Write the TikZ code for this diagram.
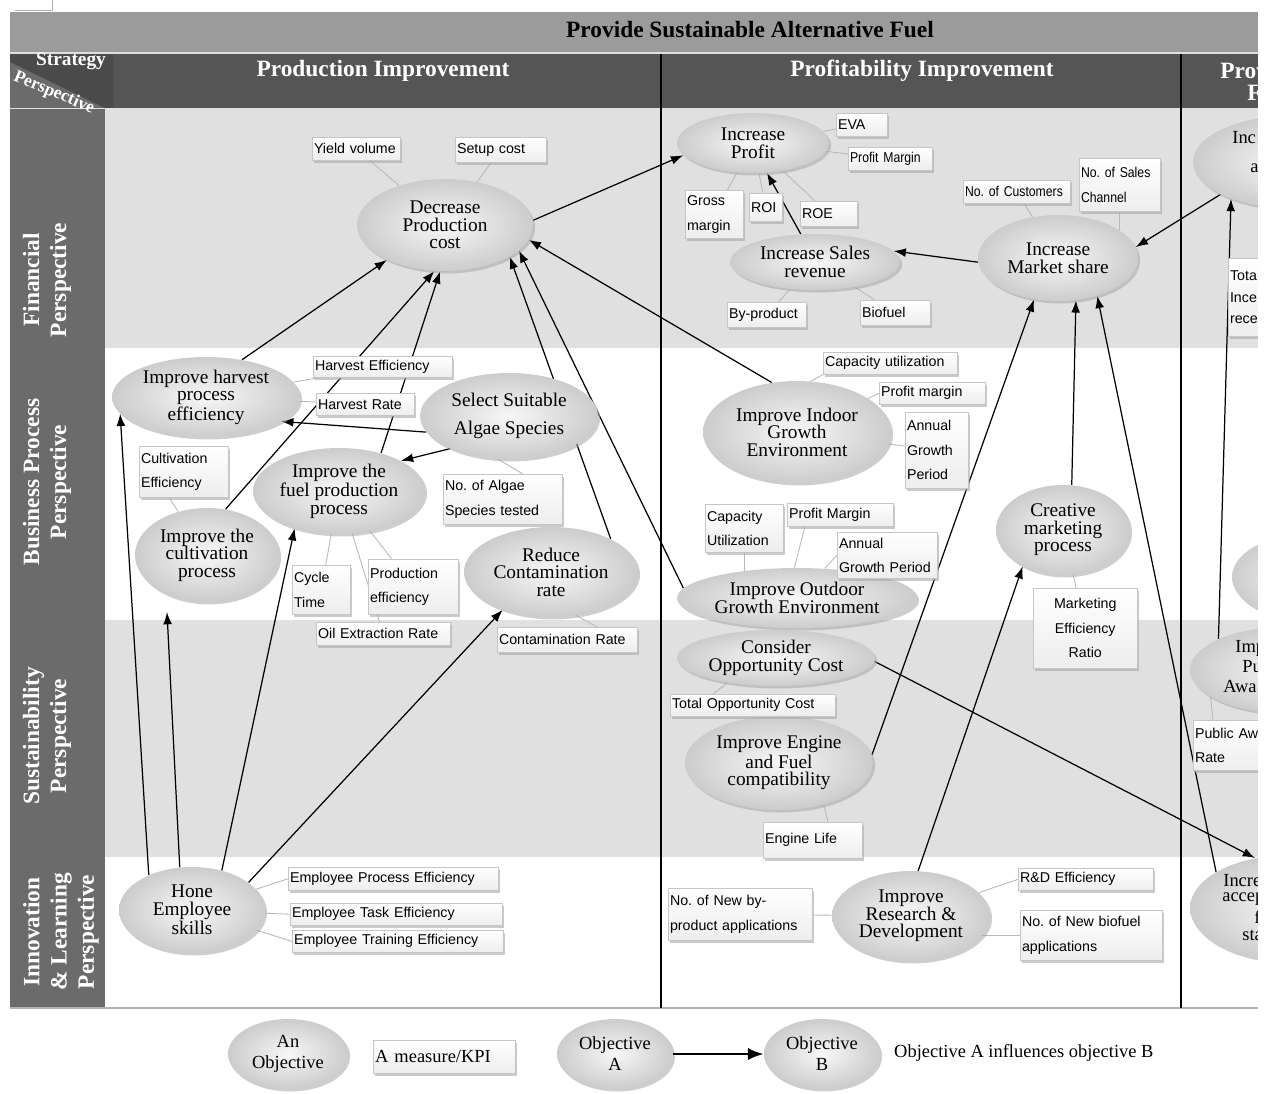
\documentclass[tikz,border=0pt]{standalone}
\usepackage{fontspec}
\setmainfont{Liberation Serif}
\newfontfamily\kpisans{Liberation Sans}
\newfontfamily\kpinarrow[FakeStretch=0.86]{Liberation Sans}
\usetikzlibrary{shapes.geometric,arrows.meta,shadows}

\pgfdeclarelayer{back}
\pgfdeclarelayer{mid}
\pgfsetlayers{back,mid,main}

\definecolor{titlegrey}{HTML}{9B9B9B}
\definecolor{headgrey}{HTML}{555555}
\definecolor{cornergrey}{HTML}{4B4B4B}
\definecolor{sidegrey}{HTML}{6B6B6B}
\definecolor{bandgrey}{HTML}{E0E0E0}

\tikzset{
  obj/.style={ellipse, inner sep=0pt, align=center, font=\fontsize{11}{10}\selectfont,
    shade, inner color=gray!6, outer color=gray!40,
    drop shadow={shadow xshift=1.2pt, shadow yshift=-1.4pt, fill=gray!70, opacity=.55}},
  kpi/.style={rectangle, anchor=north west, draw=gray!45, line width=.3pt,
    inner xsep=1pt, inner ysep=1.5pt, align=left, font=\kpisans\fontsize{8.1}{14}\selectfont,
    top color=white, bottom color=gray!14,
    drop shadow={shadow xshift=1.2pt, shadow yshift=-1.6pt, fill=gray!70, opacity=.6}},
  kline/.style={gray!55, line width=.5pt},
  arr/.style={-{Latex[length=7pt,width=5pt]}, line width=.7pt},
  lanelabel/.style={rotate=90, text=white, align=center, font=\bfseries\fontsize{13.3}{15.5}\selectfont},
  headtext/.style={text=white, font=\bfseries\fontsize{13.3}{15}\selectfont},
  frag/.style={anchor=west, inner sep=0pt, font=\fontsize{10.5}{10}\selectfont},
}

\begin{document}
\frenchspacing
\begin{tikzpicture}[x=0.02cm, y=-0.02cm]
\useasboundingbox (0,0) rectangle (1264,1093);

% bands and grid
\begin{pgfonlayer}{back}
\fill[titlegrey] (10,12) rectangle (1258,52);
\fill[headgrey] (10,54) rectangle (1258,108);
\fill[sidegrey] (10,54) rectangle (113,108);
\fill[cornergrey] (10,54) -- (113,54) -- (113,112) -- (10,62) -- cycle;
\fill[sidegrey] (10,108) rectangle (105,1008);
\fill[bandgrey] (105,109) rectangle (1258,348);
\fill[bandgrey] (105,620) rectangle (1258,857);
\draw[gray!25, line width=1pt] (10,53) -- (1258,53);
\draw[gray!25, line width=1pt] (10,108.5) -- (1258,108.5);
\draw[gray!60, line width=1pt] (10,1008) -- (1258,1008);
\draw[line width=.6pt] (661,54) -- (661,1008);
\draw[line width=.6pt] (1181,54) -- (1181,1008);
\draw[gray!60] (15,10) -- (52,10) -- (52,0);
\end{pgfonlayer}

% headings
\node[font=\bfseries\fontsize{13.3}{15}\selectfont] (ttl) at (750,30) {Provide Sustainable Alternative Fuel};
\node[headtext] (hprod) at (383,71) {Production Improvement};
\node[headtext] (hprof) at (922,71) {Profitability Improvement};
\node[headtext, anchor=west, inner sep=0pt] (hprov) at (1220,71) {Prov};
\node[headtext, anchor=west, inner sep=0pt] (hprovf) at (1247,93) {F};
\node[text=white, inner sep=0pt, font=\bfseries\fontsize{11}{12}\selectfont] (strat) at (71,61) {Strategy};
\node[text=white, inner sep=0pt, rotate=-23, font=\bfseries\fontsize{10}{12}\selectfont] (persp) at (54,93) {Perspective};

\node[lanelabel] (lfin) at (47,280) {Financial\\Perspective};
\node[lanelabel] (lbus) at (47,482) {Business Process\\Perspective};
\node[lanelabel] (lsus) at (47,736) {Sustainability\\Perspective};
\node[lanelabel] (linn) at (61,932) {Innovation\\\& Learning\\Perspective};

% objectives
\node[obj, minimum width=3.52cm, minimum height=1.84cm] (dec) at (445,225) {Decrease\\Production\\cost};
\node[obj, minimum width=3.04cm, minimum height=1.2cm] (prof) at (753,143) {Increase\\Profit};
\node[obj, minimum width=3.4cm, minimum height=1.12cm] (sales) at (815,262) {Increase Sales\\revenue};
\node[obj, minimum width=3.2cm, minimum height=1.72cm] (mkt) at (1058,258) {Increase\\Market share};
\node[obj, minimum width=3.76cm, minimum height=1.6cm] (harv) at (206,397) {Improve harvest\\process\\efficiency};
\node[obj, minimum width=3.56cm, minimum height=1.72cm] (sel) at (509,416) {Select Suitable\\[6pt]Algae Species};
\node[obj, minimum width=3.44cm, minimum height=1.72cm] (fuel) at (339,491) {Improve the\\fuel production\\process};
\node[obj, minimum width=2.88cm, minimum height=1.88cm] (cult) at (207,555) {Improve the\\cultivation\\process};
\node[obj, minimum width=3.48cm, minimum height=1.8cm] (red) at (551,572) {Reduce\\Contamination\\rate};
\node[obj, minimum width=3.76cm, minimum height=2.04cm] (ind) at (797,432) {Improve Indoor\\Growth\\Environment};
\node[obj, minimum width=2.68cm, minimum height=1.8cm] (crea) at (1063,530) {Creative\\marketing\\process};
\node[obj, minimum width=4.8cm, minimum height=1.2cm] (outd) at (797,598) {Improve Outdoor\\Growth Environment};
\node[obj, minimum width=3.96cm, minimum height=1.12cm] (opp) at (776,658) {Consider\\Opportunity Cost};
\node[obj, minimum width=3.76cm, minimum height=1.88cm] (eng) at (779,763) {Improve Engine\\and Fuel\\compatibility};
\node[obj, minimum width=2.92cm, minimum height=1.72cm] (hone) at (192,910) {Hone\\Employee\\skills};
\node[obj, minimum width=3.16cm, minimum height=1.8cm] (rd) at (911,916) {Improve\\Research \&\\Development};

% objectives cut off at the right edge
\node[obj, minimum width=3.88cm, minimum height=1.84cm] (incA) at (1290,162) {};
\node[frag] (incAa) at (1232,138) {Inc};
\node[frag] (incAb) at (1250,168) {a};
\node[obj, minimum width=2.92cm, minimum height=1.68cm] (side) at (1305,577) {};
\node[obj, minimum width=3.8cm, minimum height=1.72cm] (pub) at (1285,670) {};
\node[frag] (puba) at (1235,648) {Imp};
\node[frag] (pubb) at (1242,667) {Pu};
\node[frag] (pubc) at (1223,686) {Awa};
\node[obj, minimum width=4cm, minimum height=2.12cm] (incB) at (1290,908) {};
\node[frag] (incBa) at (1223,881) {Incre};
\node[frag] (incBb) at (1222,899) {accep};
\node[frag] (incBc) at (1254,917) {f};
\node[frag] (incBd) at (1242,935) {sta};

% measures
\node[kpi, text width=1.69cm, minimum height=.46cm] (yield) at (312,137) {Yield volume};
\node[kpi, text width=1.75cm, minimum height=.5cm] (setup) at (455,137) {Setup cost};
\node[kpi, text width=.95cm, minimum height=.46cm] (eva) at (836,113) {EVA};
\node[kpi, text width=1.61cm, minimum height=.46cm, font=\kpinarrow\fontsize{8.1}{14}\selectfont] (pm) at (848,147) {Profit Margin};
\node[kpi, text width=1.09cm, minimum height=.96cm] (gross) at (685,190) {Gross\\margin};
\node[kpi, text width=.59cm, minimum height=.56cm] (roi) at (749,193) {ROI};
\node[kpi, text width=1.07cm, minimum height=.5cm] (roe) at (800,201) {ROE};
\node[kpi, text width=1.51cm, minimum height=.5cm] (byp) at (727,302) {By-product};
\node[kpi, text width=1.33cm, minimum height=.5cm] (bio) at (860,300) {Biofuel};
\node[kpi, text width=2.07cm, minimum height=.46cm, font=\kpinarrow\fontsize{8.1}{14}\selectfont] (cust) at (963,180) {No. of Customers};
\node[kpi, text width=1.55cm, minimum height=1.06cm, font=\kpinarrow\fontsize{8.1}{14}\selectfont] (nsc) at (1079,158) {No. of Sales\\Channel};
\node[kpi, text width=2cm, minimum height=1.56cm, font=\kpisans\fontsize{8.1}{12.2}\selectfont] (tota) at (1228,258) {Tota\\Ince\\rece};

\node[kpi, text width=2.71cm, minimum height=.42cm] (he) at (313,356) {Harvest Efficiency};
\node[kpi, text width=1.89cm, minimum height=.44cm] (hr) at (316,393) {Harvest Rate};
\node[kpi, text width=1.71cm, minimum height=1.02cm] (ce) at (139,446) {Cultivation\\Efficiency};
\node[kpi, text width=2.31cm, minimum height=1cm] (alg) at (443,474) {No. of Algae\\Species tested};
\node[kpi, text width=1.09cm, minimum height=.98cm] (cyc) at (292,565) {Cycle\\Time};
\node[kpi, text width=1.73cm, minimum height=1.1cm] (pe) at (368,559) {Production\\efficiency};
\node[kpi, text width=2.61cm, minimum height=.46cm] (oil) at (316,622) {Oil Extraction Rate};
\node[kpi, text width=2.73cm, minimum height=.5cm] (cr) at (497,627) {Contamination Rate};
\node[kpi, text width=2.61cm, minimum height=.44cm] (cu) at (823,352) {Capacity utilization};
\node[kpi, text width=2.05cm, minimum height=.44cm] (pmi) at (879,382) {Profit margin};
\node[kpi, text width=1.19cm, minimum height=1.52cm] (agp) at (905,412) {Annual\\Growth\\Period};
\node[kpi, text width=1.49cm, minimum height=.96cm] (cu2) at (705,504) {Capacity\\Utilization};
\node[kpi, text width=2.05cm, minimum height=.46cm] (pm2) at (787,503) {Profit Margin};
\node[kpi, text width=1.93cm, minimum height=.92cm] (agp2) at (837,532) {Annual\\Growth Period};
\node[kpi, text width=2.01cm, minimum height=1.6cm, align=center] (mer) at (1033,588) {Marketing\\Efficiency\\Ratio};
\node[kpi, text width=2cm, minimum height=1cm] (pa) at (1193,720) {Public Aw\\Rate};

\node[kpi, text width=3.23cm, minimum height=.44cm] (toc) at (670,694) {Total Opportunity Cost};
\node[kpi, text width=1.91cm, minimum height=.72cm] (el) at (763,822) {Engine Life};

\node[kpi, text width=4.13cm, minimum height=.46cm] (ep) at (288,867) {Employee Process Efficiency};
\node[kpi, text width=4.17cm, minimum height=.44cm] (et) at (290,903) {Employee Task Efficiency};
\node[kpi, text width=4.15cm, minimum height=.44cm] (etr) at (292,930) {Employee Training Efficiency};
\node[kpi, text width=2.81cm, minimum height=1.04cm] (nbp) at (668,888) {No. of New by-\\product applications};
\node[kpi, text width=2.63cm, minimum height=.44cm] (rde) at (1018,868) {R\&D Efficiency};
\node[kpi, text width=2.77cm, minimum height=1cm] (nbf) at (1020,910) {No. of New biofuel\\applications};

\coordinate (cultgap) at (167,612);

% measure links and influence arrows
\begin{pgfonlayer}{mid}
\draw[kline] (yield) -- (dec);
\draw[kline] (setup) -- (dec);
\draw[kline] (eva) -- (prof);
\draw[kline] (pm) -- (prof);
\draw[kline] (gross) -- (prof);
\draw[kline] (roi) -- (prof);
\draw[kline] (roe) -- (prof);
\draw[kline] (byp) -- (sales);
\draw[kline] (bio) -- (sales);
\draw[kline] (cust) -- (mkt);
\draw[kline] (nsc.south) -- (nsc.south |- mkt.center);
\draw[kline] (he) -- (harv);
\draw[kline] (hr) -- (harv);
\draw[kline] (ce.-120) -- (cult);
\draw[kline] ([xshift=1.6cm]alg.north west) -- (sel.-105);
\draw[kline] (cyc) -- (fuel);
\draw[kline] (pe) -- (fuel);
\draw[kline] (oil) -- (fuel);
\draw[kline] ([xshift=2cm]cr.north west) -- (red.-60);
\draw[kline] (cu.south west) -- (ind.75);
\draw[kline] (pmi.west) -- (ind);
\draw[kline] (agp) -- (ind);
\draw[kline] (cu2.south) -- (cu2.south |- outd.center);
\draw[kline] ([xshift=.36cm]pm2.south west) -- (outd.95);
\draw[kline] (agp2.west) -- (outd);
\draw[kline] (mer) -- (crea);
\draw[kline] ([xshift=.4cm]pa.north west) -- (pub.-160);
\draw[kline] ([xshift=.86cm]toc.north west) -- (opp.-153);
\draw[kline] ([xshift=1.3cm]el.north west) -- (eng.-43);
\draw[kline] (ep.west) -- (hone);
\draw[kline] (et.west) -- (hone);
\draw[kline] (etr.west) -- (hone);
\draw[kline] (nbp) -- (rd);
\draw[kline] (rde.west) -- (rd);
\draw[kline] (nbf.west) -- (nbf.west -| rd.center);

\draw[arr] (harv.46) -- (dec.-149);
\draw[arr] (cult.68) -- (dec.-103);
\draw[arr] (fuel.42) -- (dec.-96);
\draw[arr] (red.29) -- (dec.-26);
\draw[arr] (outd.175) -- (dec.-19);
\draw[arr] (ind.117) -- (dec.-10);
\draw[arr] (dec.3) -- (prof.-170);
\draw[arr] (sales.117) -- (prof.-65);
\draw[arr] (mkt.183) -- (sales.8);
\draw[arr] (incA.-155) -- (mkt.8);
\draw[arr] (eng.5) -- (mkt.-120);
\draw[arr] (crea.79) -- (mkt.-67);
\draw[arr] (incB.154) -- (mkt.-44);
\draw[arr] (rd.81) -- (crea.-138);
\draw[arr] (opp.-2) -- (incB.125);
\draw[arr] (pub.155) -- (incA.-148);
\draw[arr] (hone.141) -- (harv.-169);
\draw[arr] (hone.106) -- (cultgap);
\draw[arr] (hone.53) -- (fuel.-140);
\draw[arr] (hone.26) -- (red.-142);
\draw[arr] (sel.191) -- (harv.-18);
\draw[arr] (sel.-151) -- (fuel.26);
\end{pgfonlayer}

% legend
\node[obj, minimum width=2.4cm, minimum height=1.4cm, font=\fontsize{10.5}{12}\selectfont] (legobj) at (288,1054) {An\\Objective};
\node[kpi, text width=2.77cm, minimum height=.66cm, font=\fontsize{10.5}{12}\selectfont] (legkpi) at (373,1040) {A measure/KPI};
\node[obj, minimum width=2.32cm, minimum height=1.4cm, font=\fontsize{10.5}{12}\selectfont] (objA) at (615,1054) {Objective\\A};
\node[obj, minimum width=2.32cm, minimum height=1.4cm, font=\fontsize{10.5}{12}\selectfont] (objB) at (822,1054) {Objective\\B};
\draw[-{Latex[length=9pt,width=7pt]}, line width=1.3pt] (objA) -- (objB);
\node[anchor=west, font=\fontsize{10.5}{12}\selectfont] (legtxt) at (888,1053) {Objective A influences objective B};

% cut at the right edge
\fill[white] (1258,-5) rectangle (1280,1100);
\end{tikzpicture}
\end{document}
